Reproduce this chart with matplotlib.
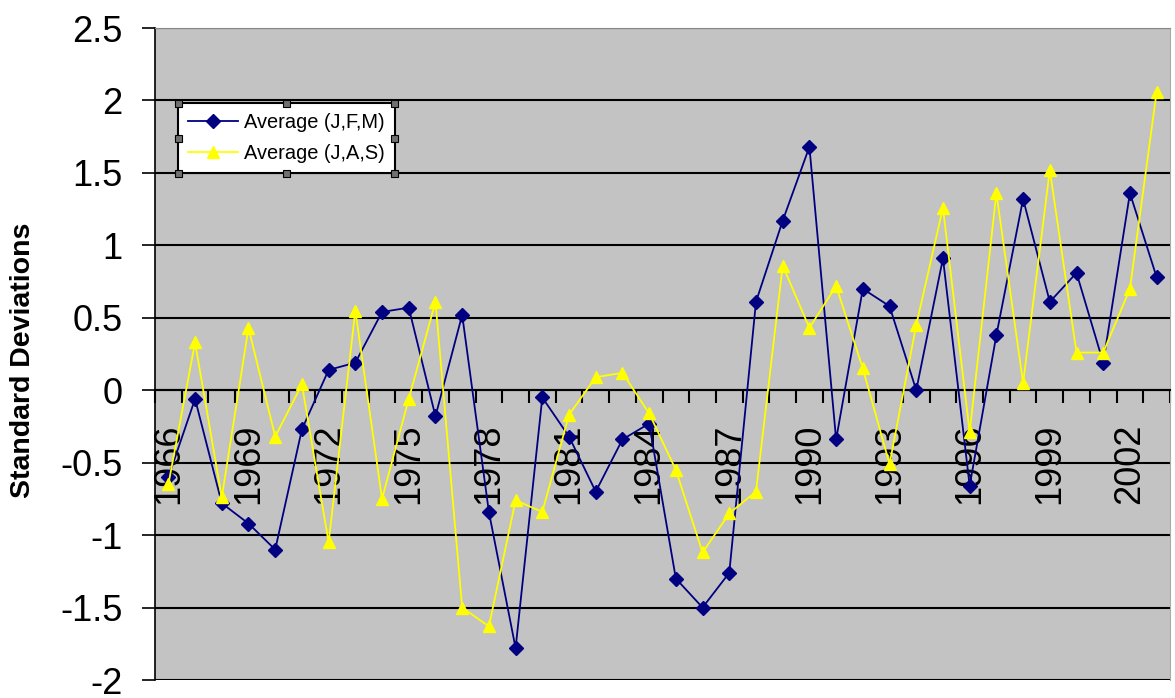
import matplotlib
matplotlib.use('Agg')
import matplotlib.pyplot as plt
from matplotlib.patches import Rectangle

plt.rcParams['font.family'] = ['Liberation Sans', 'DejaVu Sans']

# yearly index values (standard deviations)
years = list(range(1966, 2004))
avg_jfm = [-0.60, -0.06, -0.78, -0.92, -1.10, -0.27, 0.14, 0.19, 0.54, 0.57,
           -0.18, 0.52, -0.84, -1.78, -0.05, -0.32, -0.70, -0.34, -0.23, -1.30,
           -1.50, -1.26, 0.61, 1.17, 1.68, -0.34, 0.70, 0.58, 0.00, 0.91,
           -0.66, 0.38, 1.32, 0.61, 0.81, 0.19, 1.36, 0.78]
avg_jas = [-0.65, 0.33, -0.74, 0.43, -0.32, 0.04, -1.05, 0.55, -0.75, -0.06,
           0.61, -1.50, -1.63, -0.76, -0.84, -0.17, 0.09, 0.12, -0.16, -0.55,
           -1.12, -0.85, -0.70, 0.86, 0.43, 0.72, 0.15, -0.51, 0.45, 1.26,
           -0.29, 1.36, 0.05, 1.52, 0.26, 0.26, 0.70, 2.06]
series_names = ['Average (J,F,M)', 'Average (J,A,S)']
yticks = [-2, -1.5, -1, -0.5, 0, 0.5, 1, 1.5, 2, 2.5]

W, H = 1175, 698
fig = plt.figure(figsize=(W / 100, H / 100), dpi=100)
ax = fig.add_axes([155 / W, 1 - 680 / H, 1015 / W, 652 / H])
ax.set_facecolor('#c3c3c3')

x = list(range(len(years)))
ax.plot(x, avg_jfm, color='#000080', lw=1.3, marker='D', ms=7,
        label=series_names[0], zorder=3)
ax.plot(x, avg_jas, color='#ffff00', lw=1.3, marker='^', ms=9,
        label=series_names[1], zorder=3)

ax.set_xlim(-0.5, len(years) - 0.5)
ax.set_ylim(-2, 2.5)
ax.set_yticks(yticks)
ax.set_yticklabels([f'{v:g}' for v in yticks], fontsize=26)
ax.yaxis.grid(True, color='black', lw=1.5)
ax.tick_params(axis='y', direction='out', length=9.5, width=1.2, pad=14)

# category axis crossing at zero
ax.spines['bottom'].set_position(('data', 0))
ax.spines['bottom'].set_linewidth(1.5)
ax.spines['left'].set_linewidth(1.2)
ax.spines['top'].set_color('#888888')
ax.spines['right'].set_color('#aaaaaa')
lab_pos = x[::3]
ax.set_xticks(lab_pos)
ax.set_xticklabels([str(years[i]) for i in lab_pos], rotation=90, fontsize=26)
ax.set_xticks([i - 0.5 for i in range(len(years) + 1)], minor=True)
ax.tick_params(axis='x', which='major', length=0, pad=24)
ax.tick_params(axis='x', which='minor', direction='out', length=9.5, width=1.5)
for t in ax.get_xticklabels():
    t.set_va('top')

fig.text(23 / W, 1 - 360 / H, 'Standard Deviations', rotation=90,
         ha='center', va='center', fontsize=20.5, fontweight='bold')

leg = ax.legend(loc='upper left', bbox_to_anchor=(178 / W, 1 - 103 / H),
                bbox_transform=fig.transFigure, borderaxespad=0,
                fancybox=False, framealpha=1, edgecolor='black',
                fontsize=14.4, handlelength=2.5, handletextpad=0.3,
                borderpad=0.5, labelspacing=0.6)
leg.get_frame().set_linewidth(1.5)

# selection handles around the legend box
fig.canvas.draw()
bb = leg.get_window_extent()
s = 7
for px in (bb.x0, (bb.x0 + bb.x1) / 2, bb.x1):
    for py in (bb.y0, (bb.y0 + bb.y1) / 2, bb.y1):
        if px == (bb.x0 + bb.x1) / 2 and py == (bb.y0 + bb.y1) / 2:
            continue
        fig.patches.append(Rectangle(((px - s / 2) / W, (py - s / 2) / H), s / W, s / H,
                                     transform=fig.transFigure, facecolor='#707070',
                                     edgecolor='black', lw=0.8, zorder=10))

fig.savefig('out.png', dpi=100)
